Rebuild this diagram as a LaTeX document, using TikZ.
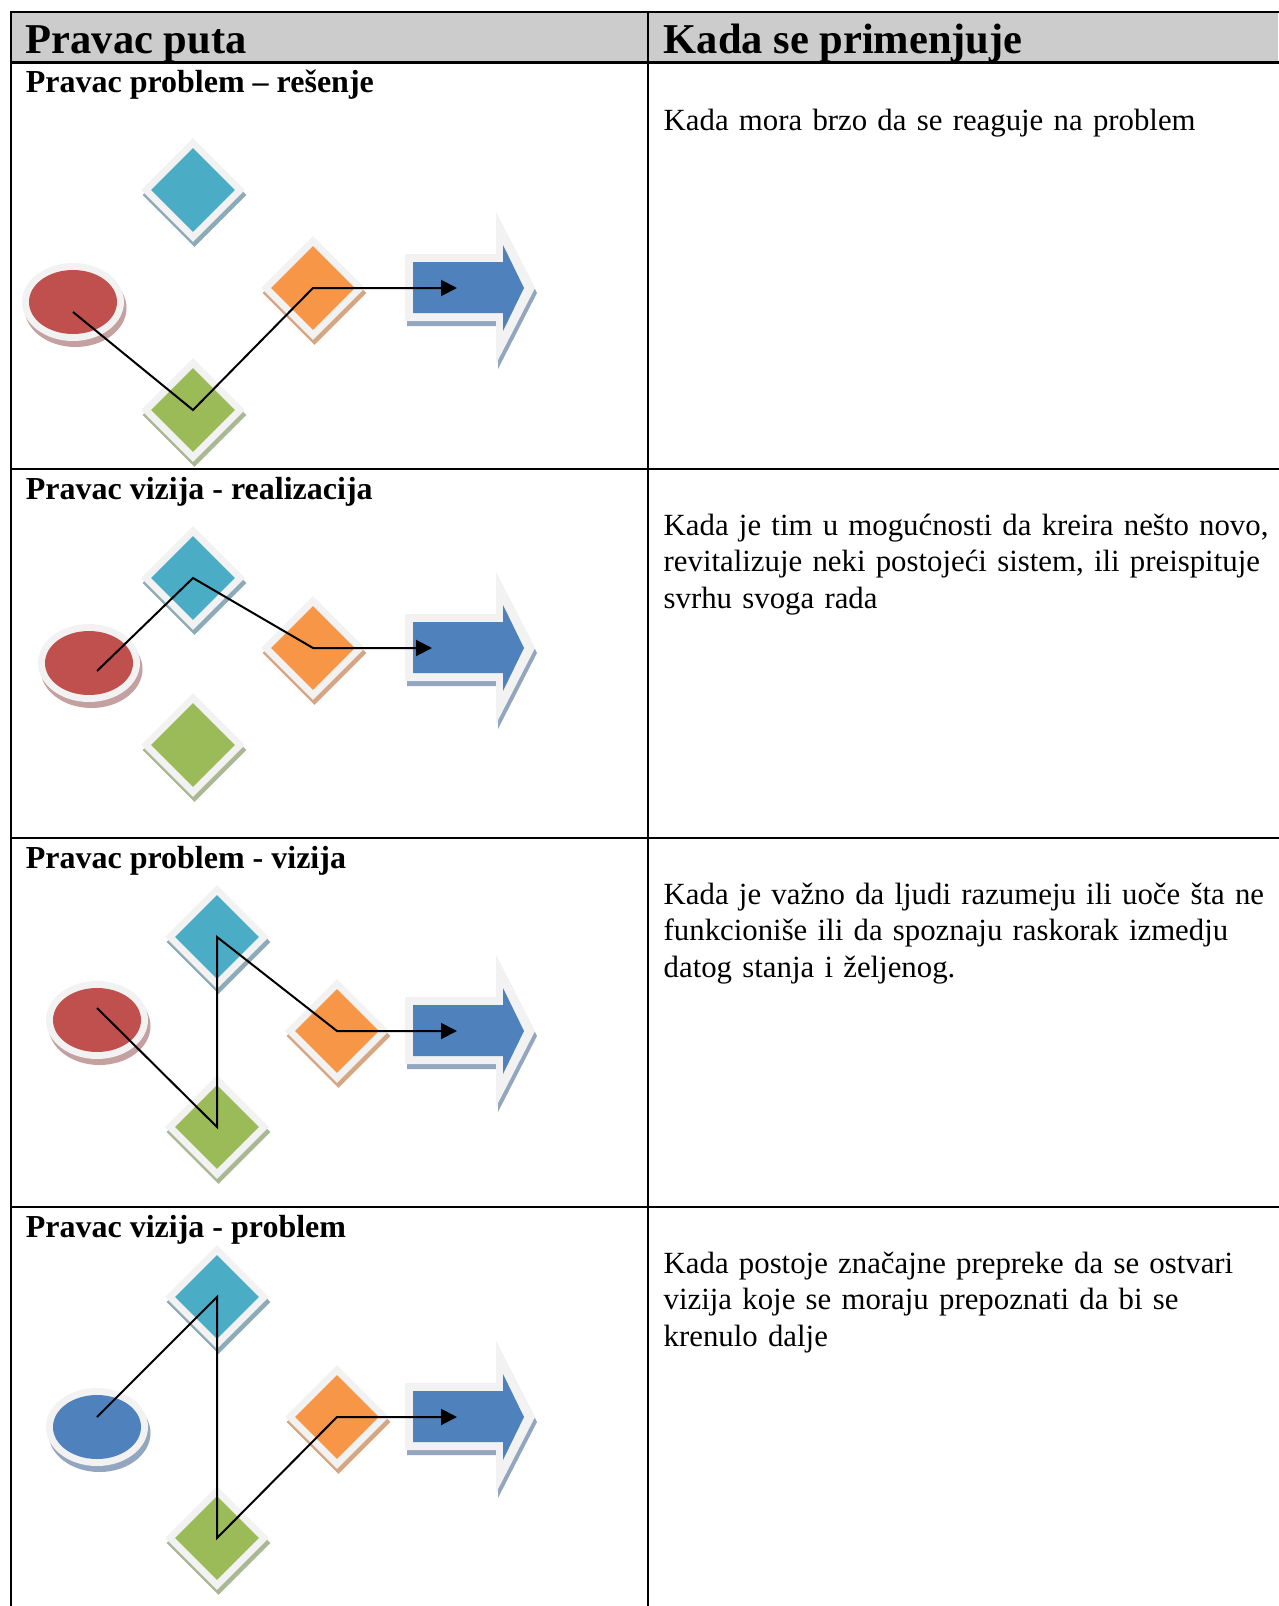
\documentclass[tikz,border=0pt]{standalone}
\usepackage{fontspec}
\setmainfont{Liberation Serif}
\usetikzlibrary{arrows.meta,shapes.geometric}
\definecolor{hdr}{HTML}{CCCCCC}
\definecolor{rim}{HTML}{F2F2F2}
\definecolor{cyanf}{HTML}{4BACC6}
\definecolor{cyans}{HTML}{8DAAB8}
\definecolor{greenf}{HTML}{9BBB59}
\definecolor{greens}{HTML}{A9B892}
\definecolor{orangef}{HTML}{F79646}
\definecolor{oranges}{HTML}{D6A582}
\definecolor{redf}{HTML}{C0504D}
\definecolor{reds}{HTML}{C4A0A0}
\definecolor{bluef}{HTML}{4F81BD}
\definecolor{blues}{HTML}{93A6BF}
\tikzset{
  dsh/.style={diamond, inner sep=0pt, minimum width=104pt, minimum height=104pt},
  dout/.style={diamond, inner sep=0pt, minimum width=104pt, minimum height=104pt, fill=rim},
  din/.style={diamond, inner sep=0pt, minimum width=84pt, minimum height=84pt},
  esh/.style={ellipse, inner sep=0pt, minimum width=102pt, minimum height=78pt},
  eout/.style={ellipse, inner sep=0pt, minimum width=102pt, minimum height=78pt, fill=rim},
  ein/.style={ellipse, inner sep=0pt, minimum width=88pt, minimum height=64pt},
  gridline/.style={line width=2.2pt, line cap=rect},
  conn/.style={line width=2pt, line join=miter},
  headtip/.style={-{Triangle[length=16pt,width=16pt]}},
  th/.style={anchor=base west, inner sep=0pt, font=\fontsize{42.5}{49}\selectfont\bfseries},
  rh/.style={anchor=base west, inner sep=0pt, font=\fontsize{32}{36.9}\selectfont\bfseries},
  body/.style={anchor=base west, inner sep=0pt, text width=612pt, align=left, font=\fontsize{30.8}{36.9}\selectfont},
}
\newcommand\dia[5]{%
  \node[dsh, fill=#5, xshift=1.5pt, yshift=-5pt] at (#2,#3) {};
  \node[dout] at (#2,#3) {};
  \node[din, fill=#4] (#1) at (#2,#3) {};
}
\newcommand\myoval[5]{%
  \node[esh, fill=#5, xshift=2.5pt, yshift=-6pt] at (#2,#3) {};
  \node[eout] at (#2,#3) {};
  \node[ein, fill=#4] (#1) at (#2,#3) {};
}
\newcommand\blockarrow[1]{%
  \fill[blues, shift={(2,5)}] (405,#1-34) -- (496,#1-34) -- (496,#1-76) -- (535,#1) -- (496,#1+76) -- (496,#1+33) -- (405,#1+33) -- cycle;
  \fill[rim] (405,#1-34) -- (496,#1-34) -- (496,#1-76) -- (535,#1) -- (496,#1+76) -- (496,#1+33) -- (405,#1+33) -- cycle;
  \fill[bluef] (413,#1-26) -- (503,#1-26) -- (503,#1-43) -- (524,#1) -- (503,#1+43) -- (503,#1+25) -- (413,#1+25) -- cycle;
}
\begin{document}
\begin{tikzpicture}[x=1pt, y=-1pt]
\useasboundingbox (0,0) rectangle (1278,1606);
\fill[white] (0,0) rectangle (1278,1606);
% header
\fill[hdr] (11,12) rectangle (1278,62.5);
\draw[gridline] (11,12) -- (1278,12);
\draw[gridline] (11,62.5) -- (1278,62.5);
\draw[gridline] (11,469) -- (1278,469);
\draw[gridline] (11,838) -- (1278,838);
\draw[gridline] (11,1207) -- (1278,1207);
\draw[gridline] (11,12) -- (11,1606);
\draw[gridline] (648,12) -- (648,1606);
\node[th] (h1) at (25.6,53) {Pravac puta};
\node[th] (h2) at (663.5,53) {Kada se primenjuje};
% row headers
\node[rh] (r1) at (25.6,92.5) {Pravac problem – rešenje};
\node[rh] (r2) at (25.6,499) {Pravac vizija - realizacija};
\node[rh] (r3) at (25.6,868) {Pravac problem - vizija};
\node[rh] (r4) at (25.6,1237) {Pravac vizija - problem};
% body texts
\node[body] (b1) at (663.5,130) {Kada mora brzo da se reaguje na problem};
\node[body] (b2) at (663.5,535) {Kada je tim u mogućnosti da kreira nešto novo,\\ revitalizuje neki postojeći sistem, ili preispituje\\ svrhu svoga rada};
\node[body] (b3) at (663.5,904) {Kada je važno da ljudi razumeju ili uoče šta ne\\ funkcioniše ili da spoznaju raskorak izmedju\\ datog stanja i željenog.};
\node[body] (b4) at (663.5,1273) {Kada postoje značajne prepreke da se ostvari\\ vizija koje se moraju prepoznati da bi se\\ krenulo dalje};
% row 1
\dia{c1}{193}{190}{cyanf}{cyans}
\myoval{e1}{73}{302}{redf}{reds}
\dia{o1}{313}{288}{orangef}{oranges}
\dia{g1}{193}{410}{greenf}{greens}
\blockarrow{288}
\coordinate (s1) at (73,312);
\coordinate (t1) at (457,288);
\draw[conn, headtip] (s1) -- (g1.center) -- (o1.center) -- (t1);
% row 2
\dia{c2}{193}{578}{cyanf}{cyans}
\myoval{e2}{89}{663}{redf}{reds}
\dia{o2}{313}{648}{orangef}{oranges}
\dia{g2}{193}{745}{greenf}{greens}
\blockarrow{648}
\coordinate (s2) at (97,671);
\coordinate (t2) at (432,648);
\draw[conn, headtip] (s2) -- (c2.center) -- (o2.center) -- (t2);
% row 3
\dia{c3}{217}{937}{cyanf}{cyans}
\myoval{e3}{97}{1020}{redf}{reds}
\dia{o3}{337}{1031}{orangef}{oranges}
\dia{g3}{217}{1127}{greenf}{greens}
\blockarrow{1031}
\coordinate (s3) at (97,1008);
\coordinate (t3) at (457,1031);
\draw[conn, headtip] (s3) -- (g3.center) -- (c3.center) -- (o3.center) -- (t3);
% row 4
\dia{c4}{217}{1297}{cyanf}{cyans}
\myoval{e4}{97}{1427}{bluef}{blues}
\dia{o4}{337}{1417}{orangef}{oranges}
\dia{g4}{217}{1538}{greenf}{greens}
\blockarrow{1417}
\coordinate (s4) at (97,1417);
\coordinate (t4) at (457,1417);
\draw[conn, headtip] (s4) -- (c4.center) -- (g4.center) -- (o4.center) -- (t4);
\end{tikzpicture}
\end{document}
